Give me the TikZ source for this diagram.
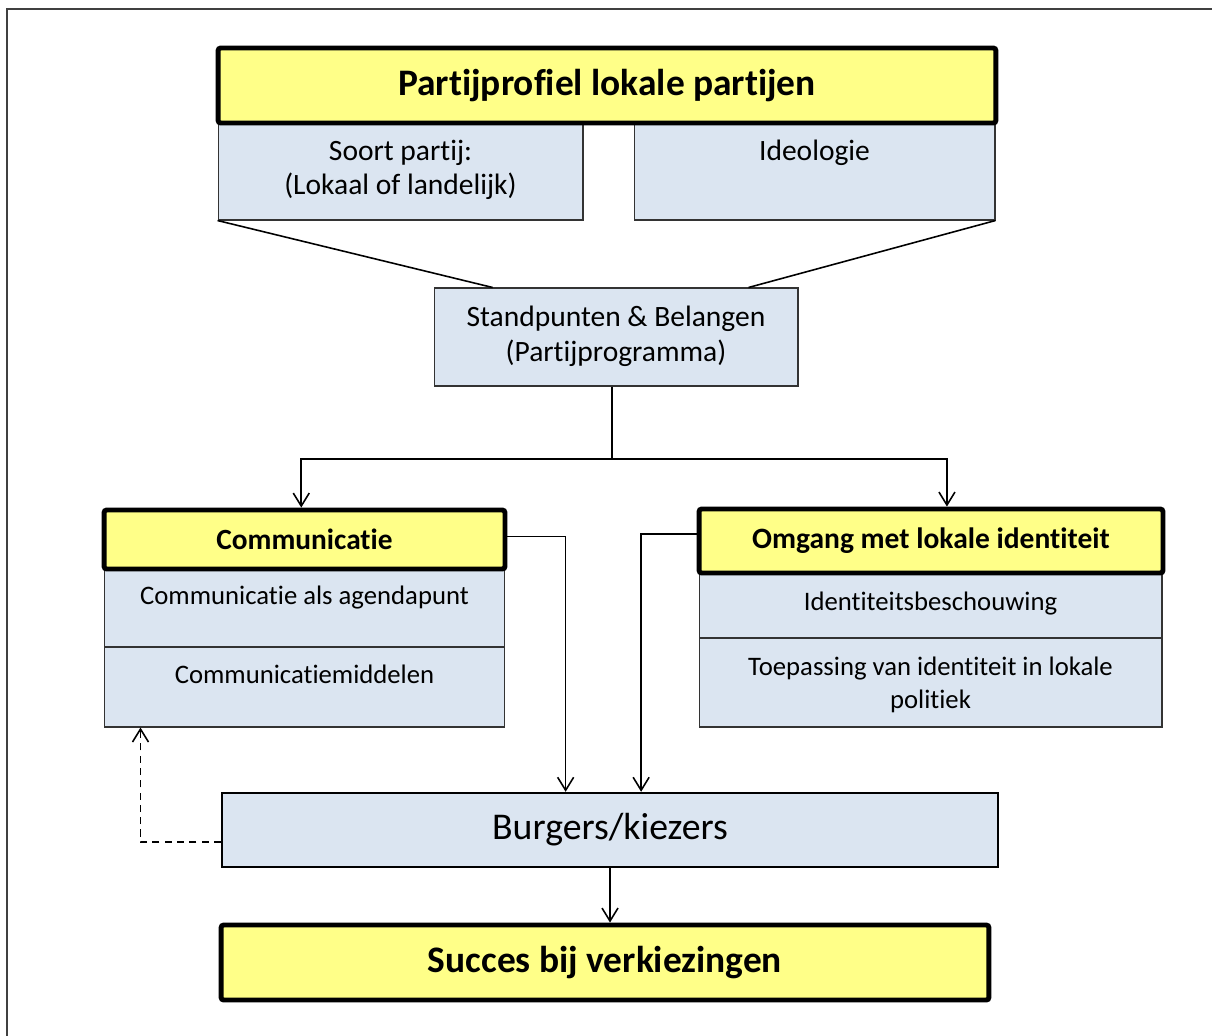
\documentclass[tikz,border=0pt]{standalone}
\usepackage{fontspec}
\setmainfont{Carlito}[Ligatures=NoCommon]
\usepackage{tikz}
\usetikzlibrary{arrows.meta,positioning,calc}

\definecolor{kopgeel}{HTML}{FFFF88}
\definecolor{vakblauw}{HTML}{DBE5F1}

\tikzset{
    kop/.style={
           rectangle,
           rounded corners=1.5pt,
           draw=black, line width=2.8pt,
           fill=kopgeel,
           inner sep=0pt,
           text centered,
           font=\bfseries,
           },
    vak/.style={
           rectangle,
           draw=black!80, line width=0.6pt,
           fill=vakblauw,
           inner sep=0pt,
           },
    vaktekst/.style={
           inner sep=0pt,
           align=center,
           },
    lijn/.style={line width=0.9pt},
}

\begin{document}
\begin{tikzpicture}[x=0.02cm,y=-0.02cm,>={Straight Barb[length=2.6mm,width=3.2mm]},
                    node distance=0.3cm]
  \useasboundingbox (0,0) rectangle (1212,1035);
  \draw[line width=1.2pt,black!75] (7,1100) -- (7,9) -- (1300,9);

  % bovenste blok
  \node[vak, minimum width=7.3cm,  minimum height=1.96cm] (soort) at (400.5,171) {};
  \node[vak, minimum width=7.22cm, minimum height=1.96cm] (ideo)  at (814.5,171) {};
  \node[kop, minimum width=15.56cm, minimum height=1.5cm, font=\fontsize{21.3}{25}\selectfont\bfseries] (profiel) at (607,85.5) {Partijprofiel lokale partijen};
  \node[vaktekst, below=0.36cm of soort.north, font=\fontsize{16.8}{19.8}\selectfont] (soorttxt) {Soort partij:\\(Lokaal of landelijk)};
  \node[vaktekst, below=0.36cm of ideo.north, font=\fontsize{16.8}{19.8}\selectfont] (ideotxt) {Ideologie};

  \node[vak, minimum width=7.28cm, minimum height=1.96cm] (stand) at (616,337) {};
  \node[vaktekst, below=0.36cm of stand.north, font=\fontsize{16.8}{19.8}\selectfont] (standtxt) {Standpunten \& Belangen\\(Partijprogramma)};

  % communicatie
  \node[vak, minimum width=8.02cm, minimum height=1.58cm] (agenda) at (304.5,607.5) {};
  \node[vak, minimum width=8.02cm, minimum height=1.6cm]  (middel) at (304.5,687) {};
  \node[kop, minimum width=8.02cm, minimum height=1.18cm, font=\fontsize{16.7}{20}\selectfont\bfseries] (comm) at (304.5,539.5) {Communicatie};
  \node[vaktekst, below=0.36cm of agenda.north, font=\fontsize{15.2}{18.7}\selectfont] (agendatxt) {Communicatie als agendapunt};
  \node[vaktekst, below=0.36cm of middel.north, font=\fontsize{15.2}{18.7}\selectfont] (middeltxt) {Communicatiemiddelen};

  % lokale identiteit
  \node[vak, minimum width=9.26cm, minimum height=1.3cm]  (ident) at (930.5,605.5) {};
  \node[vak, minimum width=9.26cm, minimum height=1.78cm] (toep)  at (930.5,682.5) {};
  \node[kop, minimum width=9.28cm, minimum height=1.28cm, font=\fontsize{16.8}{20}\selectfont\bfseries] (omgang) at (931,541) {Omgang met lokale identiteit};
  \node[vaktekst, below=0.38cm of ident.north, font=\fontsize{15.2}{18.7}\selectfont] (identtxt) {Identiteitsbeschouwing};
  \node[vaktekst, below=0.38cm of toep.north, font=\fontsize{15.2}{18.7}\selectfont] (toeptxt) {Toepassing van identiteit in lokale\\politiek};

  % onderkant
  \node[vak, draw=black, line width=1.4pt, minimum width=15.52cm, minimum height=1.48cm, font=\fontsize{21.5}{25}\selectfont] (burgers) at (610,830) {Burgers/kiezers};
  \node[kop, minimum width=15.36cm, minimum height=1.5cm, font=\fontsize{21.3}{25}\selectfont\bfseries] (succes) at (605,962.5) {Succes bij verkiezingen};

  \coordinate (splits) at (612,459);

  \draw[lijn] (soort.south west) -- ($(stand.north west)!0.162!(stand.north east)$);
  \draw[lijn] (ideo.south east) -- ($(stand.north west)!0.863!(stand.north east)$);
  \draw[lijn] (splits |- stand.south) -- (splits);
  \draw[lijn,->] (splits) -| ($(comm.north west)!0.492!(comm.north east)$);
  \draw[lijn,->] (splits) -| ($(omgang.north west)!0.534!(omgang.north east)$);
  \draw[lijn,->] ($(comm.north east)!0.45!(comm.south east)$) -| ($(burgers.north west)!0.443!(burgers.north east)$);
  \draw[lijn,->] ($(omgang.north west)!0.4!(omgang.south west)$) -| ($(burgers.north west)!0.540!(burgers.north east)$);
  \draw[lijn,dash pattern=on 4pt off 3pt,->] ($(burgers.north west)!0.66!(burgers.south west)$) -| ($(middel.south west)!0.092!(middel.south east)$);
  \draw[lijn,->] (burgers.south) -- (burgers.south |- succes.north);
\end{tikzpicture}
\end{document}
